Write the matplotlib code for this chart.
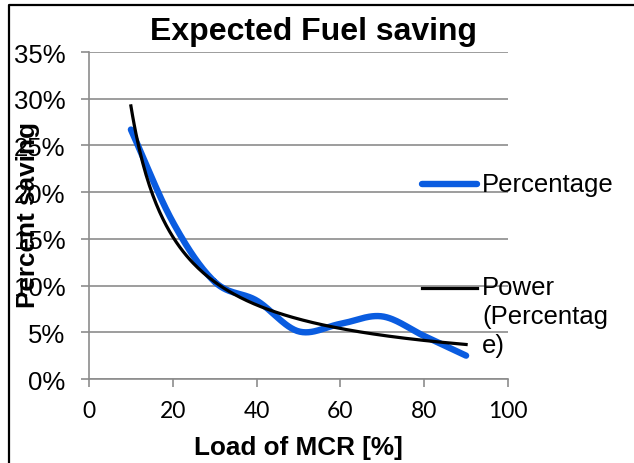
import numpy as np
import matplotlib
matplotlib.use("Agg")
import matplotlib.pyplot as plt
from matplotlib.lines import Line2D
from matplotlib.ticker import FuncFormatter

# load points and measured fuel saving
load = [10, 20, 30, 40, 50, 60, 70, 80, 90]
saving = [0.267, 0.168, 0.104, 0.084, 0.051, 0.059, 0.067, 0.046, 0.025]

title = "Expected Fuel saving"
xlabel = "Load of MCR [%]"
ylabel = "Percent saving"
series_name = "Percentage"
trend_name = "Power\n(Percentag\ne)"

BLUE = "#0a5ce0"
GRID = "#8c8c8c"
FONT = "Liberation Sans"


def smooth(xs, ys, n=30):
    # catmull-rom through the points, like a smoothed line in a spreadsheet chart
    xs = np.asarray(xs, float)
    ys = np.asarray(ys, float)
    px = np.concatenate([[2 * xs[0] - xs[1]], xs, [2 * xs[-1] - xs[-2]]])
    py = np.concatenate([[2 * ys[0] - ys[1]], ys, [2 * ys[-1] - ys[-2]]])
    outx, outy = [], []
    t = np.linspace(0, 1, n)
    for i in range(1, len(px) - 2):
        for arr, out in ((px, outx), (py, outy)):
            p0, p1, p2, p3 = arr[i - 1], arr[i], arr[i + 1], arr[i + 2]
            out.extend(0.5 * ((2 * p1) + (-p0 + p2) * t
                              + (2 * p0 - 5 * p1 + 4 * p2 - p3) * t ** 2
                              + (-p0 + 3 * p1 - 3 * p2 + p3) * t ** 3))
    return np.array(outx), np.array(outy)


fig = plt.figure(figsize=(6.34, 4.64), dpi=100)
ax = fig.add_axes([89 / 634, 1 - 380 / 464, (508 - 89) / 634, (380 - 53) / 464])

sx, sy = smooth(load, saving)
ax.plot(sx, sy, color=BLUE, lw=4.6, solid_capstyle="round", zorder=3)

# power trendline fitted on log-log
b, ln_a = np.polyfit(np.log(load), np.log(saving), 1)
tx = np.linspace(load[0], load[-1], 200)
ax.plot(tx, np.exp(ln_a) * tx ** b, color="black", lw=2.3, zorder=4)

ax.set_xlim(0, 100)
ax.set_ylim(0, 0.35)
ax.set_xticks(range(0, 101, 20))
ax.set_yticks(np.arange(0, 0.351, 0.05))
ax.yaxis.set_major_formatter(FuncFormatter(lambda v, p: f"{v * 100:.0f}%"))
ax.grid(axis="y", color=GRID, lw=1.2)
ax.set_axisbelow(True)
for s in ("top", "right"):
    ax.spines[s].set_visible(False)
for s in ("left", "bottom"):
    ax.spines[s].set_color(GRID)
    ax.spines[s].set_linewidth(1.2)
ax.tick_params(axis="y", length=5.8, width=1.2, color=GRID, pad=11, labelsize=18.5)
ax.tick_params(axis="x", length=5.8, width=1.2, color=GRID, pad=9, labelsize=16.5)
for lab in ax.get_yticklabels():
    lab.set_fontfamily(FONT)
for lab in ax.get_xticklabels():
    lab.set_fontfamily("Lato")

fig.text(314 / 634, 1 - 32 / 464, title, ha="center", va="center",
         fontsize=23, fontweight="bold", family=FONT)
fig.text(298 / 634, 1 - 448 / 464, xlabel, ha="center", va="center",
         fontsize=18.8, fontweight="bold", family=FONT)
fig.text(28 / 634, 1 - 215 / 464, ylabel, ha="center", va="center",
         rotation=90, fontsize=18.8, fontweight="bold", family=FONT)

# legend drawn by hand on the right
fig.add_artist(Line2D([422 / 634, 477 / 634], [1 - 185 / 464] * 2,
                      color=BLUE, lw=4.6, solid_capstyle="round"))
fig.text(482 / 634, 1 - 185 / 464, series_name, ha="left", va="center",
         fontsize=18.5, family=FONT)
fig.add_artist(Line2D([422 / 634, 477 / 634], [1 - 289 / 464] * 2,
                      color="black", lw=2.3))
fig.text(482 / 634, 1 - 276 / 464, trend_name, ha="left", va="top",
         fontsize=18.5, family=FONT, linespacing=1.27)

# chart frame (left and top edges)
fig.add_artist(Line2D([9 / 634, 9 / 634, 1], [0, 1 - 5.5 / 464, 1 - 5.5 / 464],
                      color="black", lw=1.6))

fig.savefig("out.png", dpi=100)
